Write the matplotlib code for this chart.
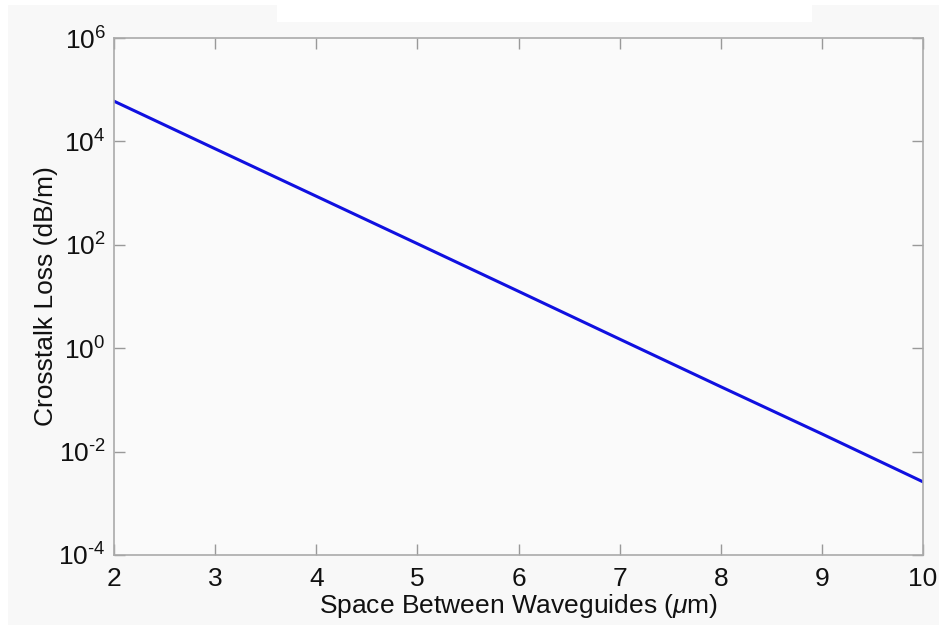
import matplotlib
matplotlib.use("Agg")
import matplotlib.pyplot as plt
from matplotlib.patches import Rectangle

plt.rcParams['font.family'] = ['Liberation Sans', 'DejaVu Sans']
plt.rcParams['mathtext.fontset'] = 'custom'
plt.rcParams['mathtext.rm'] = 'Liberation Sans'
plt.rcParams['mathtext.it'] = 'Liberation Sans:italic'

spacing_um = [2, 3, 4, 5, 6, 7, 8, 9, 10]
crosstalk_db_per_m = [6.0e4, 7.2e3, 8.7e2, 1.05e2, 12.6, 1.5, 0.18, 0.022, 2.6e-3]
ytick_vals = [1e-4, 1e-2, 1e0, 1e2, 1e4, 1e6]
ytick_labels = ['$10^{\\text{-}4}$', '$10^{\\text{-}2}$', '$10^{0}$', '$10^{2}$', '$10^{4}$', '$10^{6}$']
xtick_vals = [2, 3, 4, 5, 6, 7, 8, 9, 10]

W, H = 939, 629
fig = plt.figure(figsize=(W / 100, H / 100), dpi=100, facecolor='white')
# light grey video-frame background
fig.patches.append(Rectangle((8 / W, (H - 625) / H), (W - 8) / W, (625 - 5) / H,
                             transform=fig.transFigure, facecolor='#f8f8f8',
                             edgecolor='none', zorder=-2))
fig.patches.append(Rectangle((277 / W, (H - 22) / H), (812 - 277) / W, 17 / H,
                             transform=fig.transFigure, facecolor='white',
                             edgecolor='none', zorder=-1))

ax = fig.add_axes([114 / W, (H - 555) / H, (923 - 114) / W, (555 - 38) / H])
ax.set_facecolor('#fafafa')
ax.plot(spacing_um, crosstalk_db_per_m, color='#1010e0', lw=2.2)
ax.set_yscale('log')
ax.set_xlim(2, 10)
ax.set_ylim(1e-4, 1e6)
ax.set_yticks(ytick_vals)
ax.set_yticklabels(ytick_labels)
ax.set_xticks(xtick_vals)
ax.set_xticklabels([str(v) for v in xtick_vals])
ax.minorticks_off()
ax.tick_params(which='both', direction='in', top=True, right=True, length=8,
               width=1, color='#999999', labelsize=19, labelcolor='#111111')
ax.tick_params(axis='x', pad=9)
ax.tick_params(axis='y', pad=6)
for s in ax.spines.values():
    s.set_color('#aaaaaa')
    s.set_linewidth(1.2)
ax.set_xlabel('Space Between Waveguides ($\\mu$m)', fontsize=19, color='#111111', labelpad=0)
ax.set_ylabel('Crosstalk Loss (dB/m)', fontsize=19, color='#111111', labelpad=0)

fig.savefig('out.png', dpi=100, facecolor=fig.get_facecolor())
